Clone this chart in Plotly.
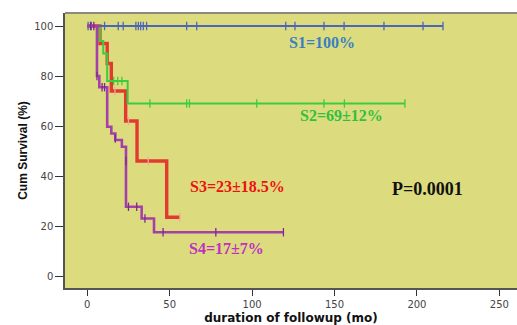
import plotly.graph_objects as go

# ---- data ----
s1_t = [0, 215.8]
s1_s = [100, 100]
s1_ct = [0.5, 2.5, 10.5, 18.8, 21.8, 29.5, 31, 32.4, 34, 36, 60.3, 66.4, 120.4, 126, 143.6, 155.8, 180, 203.7, 215.8]
s1_cs = [100] * len(s1_ct)

s2_t = [0, 7.7, 9.7, 12.1, 24.5, 192.7]
s2_s = [100, 94, 89, 78, 69, 69]
s2_ct = [16, 18.5, 21, 38, 60.3, 62, 102.8, 143.6, 156, 192.7]
s2_cs = [78, 78, 78, 69, 69, 69, 69, 69, 69, 69]

s3_t = [0, 7.7, 12.1, 14.6, 23.3, 30.2, 48.2, 56.2]
s3_s = [100, 93, 85, 74, 62, 46, 23.5, 23.5]
s3_ct = [16.8, 25, 37, 56.2]
s3_cs = [74, 62, 46, 23.5]

s4_t = [0, 5.9, 7.3, 12.1, 14.6, 17, 21, 23.5, 33, 40.5, 119]
s4_s = [100, 80, 75.5, 59.7, 57, 54.4, 51.7, 27.7, 23, 17.5, 17.5]
s4_ct = [2, 4, 5.9, 9, 10.5, 17, 23.5, 25, 30, 35, 46, 78, 119]
s4_cs = [100, 100, 80, 75.5, 75.5, 55, 46, 27.7, 27.7, 23, 17.5, 17.5, 17.5]

labels = ["S1=100%", "S2=69±12%", "S3=23±18.5%", "S4=17±7%", "P=0.0001"]
label_x = [142.4, 154.5, 91.1, 84.2, 206.4]
label_y = [93.6, 64.4, 35.7, 11.2, 34.8]
label_colors = ["#3a7fc0", "#30c040", "#ee1111", "#c030c0", "#111111"]
label_sizes = [16, 16, 16, 16, 18]

x_ticks = [0, 50, 100, 150, 200, 250]
y_ticks = [0, 20, 40, 60, 80, 100]

fig = go.Figure()

series = [
    (s3_t, s3_s, s3_ct, s3_cs, "#e23a30", 3.4, "#f2a8a0"),
    (s2_t, s2_s, s2_ct, s2_cs, "#3ccc3c", 2.0, "#3ccc3c"),
    (s1_t, s1_s, s1_ct, s1_cs, "#4a66b8", 2.0, "#4a66b8"),
    (s4_t, s4_s, s4_ct, s4_cs, "#a540a8", 2.6, "#7a2a90"),
]
for t, s, ct, cs, col, w, mcol in series:
    fig.add_trace(go.Scatter(x=t, y=s, mode="lines", line=dict(color=col, width=w, shape="hv"),
                             showlegend=False, hoverinfo="skip"))
    fig.add_trace(go.Scatter(x=ct, y=cs, mode="markers",
                             marker=dict(symbol="line-ns", size=6, line=dict(color=mcol, width=1.3)),
                             showlegend=False, hoverinfo="skip"))

for txt, x, y, c, sz in zip(labels, label_x, label_y, label_colors, label_sizes):
    fig.add_annotation(x=x, y=y, text=f"<b>{txt}</b>", showarrow=False,
                       font=dict(family="Liberation Serif", size=sz, color=c))

fig.add_shape(type="line", xref="paper", yref="paper", x0=0, x1=1, y0=1, y1=1,
              line=dict(color="#8a8a80", width=2))

fig.update_layout(
    width=517, height=325,
    margin=dict(l=65, r=0, t=13, b=37),
    paper_bgcolor="white",
    plot_bgcolor="#dcdc7e",
    xaxis=dict(range=[-13.5, 260.7], tickvals=x_ticks, showgrid=False, zeroline=False,
               showline=True, linecolor="#555555", linewidth=1.5,
               ticks="outside", ticklen=6, tickcolor="#333333",
               tickfont=dict(family="DejaVu Sans", size=10, color="#444444"),
               title=dict(text="<b>duration of followup (mo)</b>", standoff=6,
                          font=dict(family="DejaVu Sans", size=12, color="#111111"))),
    yaxis=dict(range=[-4.8, 105.2], tickvals=y_ticks, showgrid=False, zeroline=False,
               showline=True, linecolor="#555555", linewidth=1.5,
               ticks="outside", ticklen=8, tickcolor="#333333",
               tickfont=dict(family="DejaVu Sans", size=10, color="#444444"),
               title=dict(text="<b>Cum Survival (%)</b>", standoff=4,
                          font=dict(family="Liberation Sans Narrow, Liberation Sans", size=12, color="#111111"))),
)

fig.write_html("out.html", post_script="document.body.style.margin='0';",
               config={"displayModeBar": False})
